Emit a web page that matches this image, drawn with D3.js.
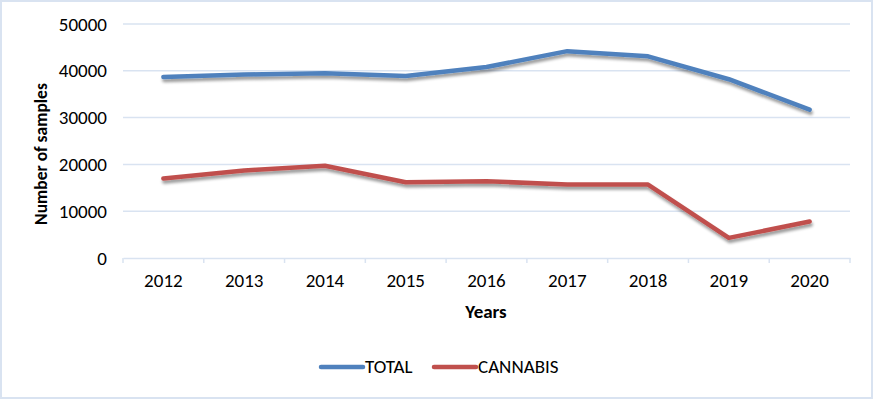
<!DOCTYPE html>
<html lang="en">
<head>
<meta charset="UTF-8">
<title>Samples</title>
<script src="https://d3js.org/d3.v7.min.js"></script>
<style>
    body { margin: 0; background: #fff; }
    text { font-family: Carlito, "Open Sans", "Liberation Sans", sans-serif; fill: #000; }
</style>
</head>
<body>
<svg id="chart" width="873" height="399"></svg>
<script>
    const years = ['2012', '2013', '2014', '2015', '2016', '2017', '2018', '2019', '2020'];
    const total = [38700, 39200, 39500, 38900, 40800, 44200, 43100, 38200, 31700];
    const cannabis = [17000, 18700, 19700, 16200, 16400, 15700, 15700, 4300, 7800];
    const yTicks = [0, 10000, 20000, 30000, 40000, 50000];
    const seriesNames = ['TOTAL', 'CANNABIS'];
    const COLORS = ['#4f81bd', '#c0504d'];
    const GRID = '#d9e3f1';

    const svg = d3.select('#chart');
    const plotLeft = 123, plotRight = 850, plotTop = 24, plotBottom = 258;

    // outer frame
    svg.append('rect')
        .attr('x', 1).attr('y', 1).attr('width', 871).attr('height', 397)
        .attr('fill', 'none').attr('stroke', GRID).attr('stroke-width', 2);

    const defs = svg.append('defs');
    const f = defs.append('filter').attr('id', 'shadow')
        .attr('x', '-10%').attr('y', '-10%').attr('width', '120%').attr('height', '140%');
    f.append('feGaussianBlur').attr('in', 'SourceAlpha').attr('stdDeviation', 1.6).attr('result', 'b');
    f.append('feOffset').attr('dx', 1).attr('dy', 2.5).attr('result', 'o');
    f.append('feComponentTransfer').append('feFuncA').attr('type', 'linear').attr('slope', 0.4);
    const m = f.append('feMerge');
    m.append('feMergeNode');
    m.append('feMergeNode').attr('in', 'SourceGraphic');

    const x = d3.scaleBand().domain(years).range([plotLeft, plotRight]);
    const y = d3.scaleLinear().domain([0, 50000]).range([plotBottom, plotTop]);

    // gridlines
    svg.append('g').selectAll('line')
        .data(yTicks.filter(d => d > 0))
        .enter().append('line')
        .attr('x1', plotLeft).attr('x2', plotRight)
        .attr('y1', d => y(d)).attr('y2', d => y(d))
        .attr('stroke', GRID).attr('stroke-width', 1.5);

    // y tick labels
    const yaxis = d3.axisLeft(y).tickValues(yTicks).tickSize(0).tickPadding(16).tickFormat(d3.format('d'));
    const gy = svg.append('g').attr('transform', `translate(${plotLeft},0)`).call(yaxis);
    gy.select('.domain').remove();
    gy.selectAll('text').style('font-size', '19px').attr('font-family', null);

    // x axis
    const xaxis = d3.axisBottom(x).tickSize(0).tickPadding(16);
    const gx = svg.append('g').attr('transform', `translate(0,${plotBottom})`).call(xaxis);
    gx.select('.domain').attr('stroke', GRID).attr('stroke-width', 1.5);
    gx.selectAll('text').style('font-size', '19px').attr('font-family', null);
    svg.append('g').selectAll('line')
        .data(d3.range(years.length + 1))
        .enter().append('line')
        .attr('x1', i => plotLeft + i * x.step()).attr('x2', i => plotLeft + i * x.step())
        .attr('y1', plotBottom).attr('y2', plotBottom + 5)
        .attr('stroke', GRID).attr('stroke-width', 1.5);

    // axis titles
    svg.append('text')
        .attr('transform', `translate(47,154) rotate(-90)`)
        .attr('text-anchor', 'middle')
        .style('font-size', '17.5px').style('font-weight', 'bold')
        .text('Number of samples');
    svg.append('text')
        .attr('x', 486).attr('y', 318)
        .attr('text-anchor', 'middle')
        .style('font-size', '19px').style('font-weight', 'bold')
        .text('Years');

    // lines
    const line = d3.line()
        .x((d, i) => x(years[i]) + x.bandwidth() / 2)
        .y(d => y(d));
    [total, cannabis].forEach((s, i) => {
        svg.append('path')
            .datum(s)
            .attr('fill', 'none')
            .attr('stroke', COLORS[i])
            .attr('stroke-width', 4.5)
            .attr('stroke-linecap', 'round')
            .attr('stroke-linejoin', 'round')
            .attr('filter', 'url(#shadow)')
            .attr('d', line);
    });

    // legend
    const legendX = [321, 434];
    seriesNames.forEach((name, i) => {
        svg.append('line')
            .attr('x1', legendX[i]).attr('x2', legendX[i] + 42)
            .attr('y1', 367).attr('y2', 367)
            .attr('stroke', COLORS[i]).attr('stroke-width', 4.5)
            .attr('stroke-linecap', 'round');
        svg.append('text')
            .attr('x', legendX[i] + 44).attr('y', 373)
            .style('font-size', '19px')
            .text(name);
    });
</script>
</body>
</html>
